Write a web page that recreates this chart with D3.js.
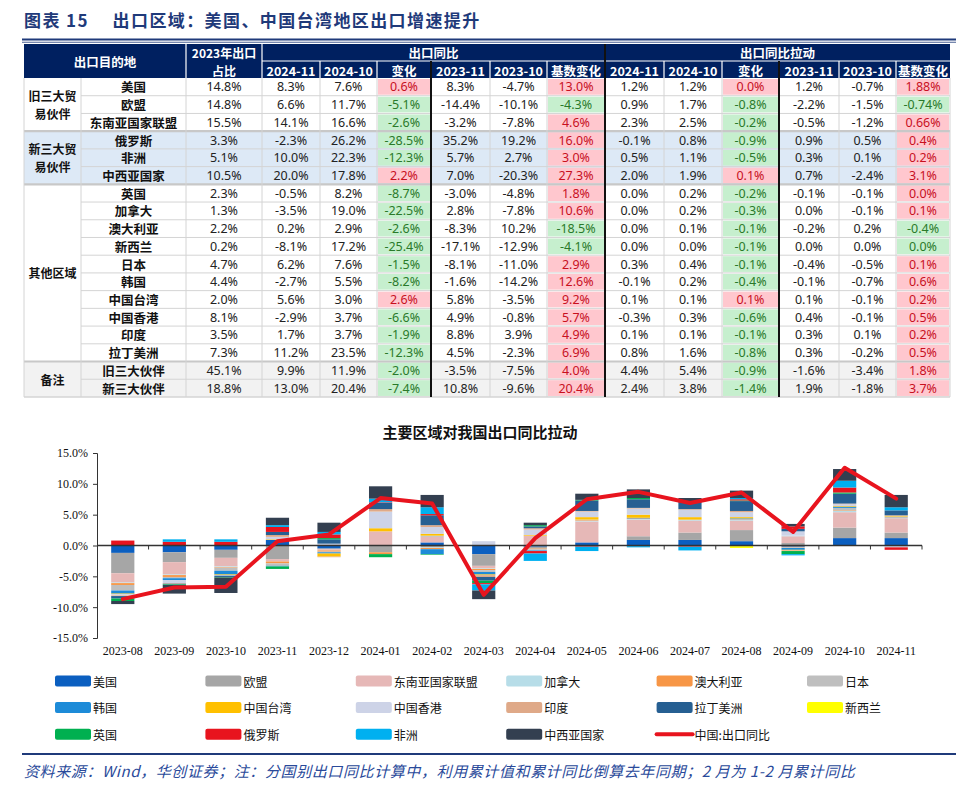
<!DOCTYPE html>
<html><head><meta charset="utf-8">
<script src="https://cdn.jsdelivr.net/npm/d3@7"></script>
<style>body{margin:0;background:#fff}svg{display:block}</style>
</head><body><svg id="c" width="960" height="797"></svg>
<script>
// ---------------- TABLE DATA ----------------
const groups = [
  {label:["旧三大贸","易伙伴"], start:0, n:3, bg:"#ffffff"},
  {label:["新三大贸","易伙伴"], start:3, n:3, bg:"#dde9f6"},
  {label:["其他区域"], start:6, n:10, bg:"#ffffff"},
  {label:["备注"], start:16, n:2, bg:"#f2f2f2"}
];
const rowNames = ["美国","欧盟","东南亚国家联盟","俄罗斯","非洲","中西亚国家","英国","加拿大","澳大利亚","新西兰","日本","韩国","中国台湾","中国香港","印度","拉丁美洲","旧三大伙伴","新三大伙伴"];
const share2023 = ["14.8%","14.8%","15.5%","3.3%","5.1%","10.5%","2.3%","1.3%","2.2%","0.2%","4.7%","4.4%","2.0%","8.1%","3.5%","7.3%","45.1%","18.8%"];
const yoy2411 = ["8.3%","6.6%","14.1%","-2.3%","10.0%","20.0%","-0.5%","-3.5%","0.2%","-8.1%","6.2%","-2.7%","5.6%","-2.9%","1.7%","11.2%","9.9%","13.0%"];
const yoy2410 = ["7.6%","11.7%","16.6%","26.2%","22.3%","17.8%","8.2%","19.0%","2.9%","17.2%","7.6%","5.5%","3.0%","3.7%","3.7%","23.5%","11.9%","20.4%"];
const yoyChg  = ["0.6%","-5.1%","-2.6%","-28.5%","-12.3%","2.2%","-8.7%","-22.5%","-2.6%","-25.4%","-1.5%","-8.2%","2.6%","-6.6%","-1.9%","-12.3%","-2.0%","-7.4%"];
const yoy2311 = ["8.3%","-14.4%","-3.2%","35.2%","5.7%","7.0%","-3.0%","2.8%","-8.3%","-17.1%","-8.1%","-1.6%","5.8%","4.9%","8.8%","4.5%","-3.5%","10.8%"];
const yoy2310 = ["-4.7%","-10.1%","-7.8%","19.2%","2.7%","-20.3%","-4.8%","-7.8%","10.2%","-12.9%","-11.0%","-14.2%","-3.5%","-0.8%","3.9%","-2.3%","-7.5%","-9.6%"];
const yoyBase = ["13.0%","-4.3%","4.6%","16.0%","3.0%","27.3%","1.8%","10.6%","-18.5%","-4.1%","2.9%","12.6%","9.2%","5.7%","4.9%","6.9%","4.0%","20.4%"];
const pull2411 = ["1.2%","0.9%","2.3%","-0.1%","0.5%","2.0%","0.0%","0.0%","0.0%","0.0%","0.3%","-0.1%","0.1%","-0.3%","0.1%","0.8%","4.4%","2.4%"];
const pull2410 = ["1.2%","1.7%","2.5%","0.8%","1.1%","1.9%","0.2%","0.2%","0.1%","0.0%","0.4%","0.2%","0.1%","0.3%","0.1%","1.6%","5.4%","3.8%"];
const pullChg  = ["0.0%","-0.8%","-0.2%","-0.9%","-0.5%","0.1%","-0.2%","-0.3%","-0.1%","-0.1%","-0.1%","-0.4%","0.1%","-0.6%","-0.1%","-0.8%","-0.9%","-1.4%"];
const pull2311 = ["1.2%","-2.2%","-0.5%","0.9%","0.3%","0.7%","-0.1%","0.0%","-0.2%","0.0%","-0.4%","-0.1%","0.1%","0.4%","0.3%","0.3%","-1.6%","1.9%"];
const pull2310 = ["-0.7%","-1.5%","-1.2%","0.5%","0.1%","-2.4%","-0.1%","-0.1%","0.2%","0.0%","-0.5%","-0.7%","-0.1%","-0.1%","0.1%","-0.2%","-3.4%","-1.8%"];
const pullBase = ["1.88%","-0.74%","0.66%","0.4%","0.2%","3.1%","0.0%","0.1%","-0.4%","0.0%","0.1%","0.6%","0.2%","0.5%","0.2%","0.5%","1.8%","3.7%"];
// cells showing "0.0%" that are coloured as declines
const zeroDeclines = [{col:"pullBase", row:9}];
const subHeads = ["2024-11","2024-10","变化","2023-11","2023-10","基数变化"];

// ---------------- CHART DATA ----------------
const months = ["2023-08","2023-09","2023-10","2023-11","2023-12","2024-01","2024-02","2024-03","2024-04","2024-05","2024-06","2024-07","2024-08","2024-09","2024-10","2024-11"];
const seriesNames = ["美国","欧盟","东南亚国家联盟","加拿大","澳大利亚","日本","韩国","中国台湾","中国香港","印度","拉丁美洲","新西兰","英国","俄罗斯","非洲","中西亚国家"];
const usa      = [-1.2,-1.1,-0.7, 0.9,-0.5, 0.0, 0.5,-1.4,-0.2, 0.5, 0.9, 0.9, 0.7,-0.2, 1.2, 1.2];
const eu       = [-3.3,-1.6,-1.3,-2.2,-0.1,-1.1,-0.3,-1.9,-0.3, 0.0, 0.6, 1.2, 1.8, 0.4, 1.7, 0.9];
const asean    = [-1.5,-2.0,-1.4,-0.4,-0.2, 2.3, 0.9,-0.4, 1.6, 3.4, 2.7, 1.9, 1.5, 1.1, 2.5, 2.3];
const canada   = [-0.1,-0.1,-0.1, 0.0, 0.0, 0.0,-0.1,-0.1, 0.0, 0.1, 0.1, 0.1, 0.1, 0.1, 0.2, 0.0];
const australia= [-0.3,-0.3,-0.1,-0.3,-0.2,-0.3,-0.2,-0.2,-0.1, 0.1, 0.1,-0.1,-0.1,-0.1, 0.1, 0.0];
const japan    = [-0.9,-0.2,-0.5,-0.4,-0.1, 0.0, 0.2,-0.3,-0.2, 0.1, 0.0, 0.1, 0.2,-0.1, 0.4, 0.3];
const korea    = [-0.5,-0.3,-0.6,-0.1,-0.2, 0.0,-0.8,-0.4,-0.1,-0.1, 0.1, 0.0, 0.1,-0.3, 0.2,-0.1];
const taiwan   = [-0.1, 0.0,-0.1, 0.1,-0.5, 0.5, 0.3,-0.1, 0.1, 0.4, 0.5, 0.4, 0.2,-0.1, 0.1, 0.1];
const hongkong = [-0.2,-0.5,-0.1, 0.4, 0.3, 2.7, 1.1, 0.7, 0.9, 0.9, 1.0, 1.2, 0.8, 0.7, 0.3,-0.2];
const india    = [-0.1,-0.1, 0.0, 0.3,-0.1, 0.4, 0.3,-0.3, 0.2, 0.1, 0.1, 0.1, 0.2,-0.1, 0.1, 0.1];
const latam    = [-0.4,-0.1,-0.2, 0.5, 0.7, 1.0, 1.6,-0.6, 0.3, 1.7, 1.4, 1.3, 1.6, 0.4, 1.6, 0.8];
const newzealand=[ 0.0, 0.0, 0.0, 0.0, 0.0, 0.0, 0.0, 0.0, 0.0, 0.0, 0.0, 0.0,-0.3, 0.0, 0.0, 0.0];
const uk       = [-0.4,-0.1,-0.1,-0.4, 0.2,-0.5,-0.1,-0.4, 0.2, 0.1, 0.2, 0.0, 0.1,-0.5, 0.2, 0.0];
const russia   = [ 0.8, 0.6, 0.6, 0.8, 0.6, 0.1, 0.2,-0.2,-0.4,-0.1,-0.1,-0.1, 0.2, 0.4, 0.8,-0.4];
const africa   = [ 0.0, 0.4, 0.4, 0.3, 0.4, 0.6, 1.1,-1.0,-1.2,-0.7,-0.2,-0.6, 0.2,-0.2, 1.1, 0.5];
const centralWestAsia = [-0.5,-1.4,-2.5, 1.2, 1.5, 2.0, 2.0,-1.4, 0.4, 1.0, 1.4, 0.5, 1.2, 0.4, 1.9, 2.0];
const chinaExportYoY = [-8.7,-6.8,-6.7, 0.7, 1.8, 7.7, 6.8,-8.0, 1.2, 7.5, 8.7, 6.9, 8.6, 2.2, 12.6, 7.6];
const lineName = "中国:出口同比";
const yTicks = [-15,-10,-5,0,5,10,15];

const seriesValues = [usa,eu,asean,canada,australia,japan,korea,taiwan,hongkong,india,latam,newzealand,uk,russia,africa,centralWestAsia];
const seriesColors = ["#0b5fc0","#a6a6a6","#e6b8b7","#b7dde8","#f79646","#bfbfbf","#1d8bd8","#ffc000","#cdd3e7","#dfa988","#265f92","#ffff00","#00b050","#e8141e","#00b0f0","#333f50"];

// ---------------- DRAW ----------------
const svg = d3.select("#c");
const NAVY = "#002060";
const cjk = "'Noto Sans CJK SC','Noto Sans',sans-serif";
const numFont = "'Noto Sans','Noto Sans CJK SC',sans-serif";

// Title
svg.append("text").attr("x",24).attr("y",27).attr("fill","#1f3a7a")
  .attr("font-family",cjk).attr("font-size",17).attr("font-weight","bold").attr("letter-spacing",1.4)
  .text("图表 15　 出口区域：美国、中国台湾地区出口增速提升");
svg.append("rect").attr("x",22).attr("y",38.5).attr("width",934).attr("height",2).attr("fill","#1f3a7a");
svg.append("rect").attr("x",22).attr("y",41.8).attr("width",934).attr("height",0.8).attr("fill","#1f3a7a");

// Table geometry
const colX = [24,81,186,262,320,377,431,490,547,605,664,722,779,839,896,950];
const hTop = 44, hMid = 61, y0 = 78, rh = 17.72;
const T = svg.append("g");
const numCols = [
  {key:"yoy2411",v:yoy2411},{key:"yoy2410",v:yoy2410},{key:"yoyChg",v:yoyChg,c:true},
  {key:"yoy2311",v:yoy2311},{key:"yoy2310",v:yoy2310},{key:"yoyBase",v:yoyBase,c:true},
  {key:"pull2411",v:pull2411},{key:"pull2410",v:pull2410},{key:"pullChg",v:pullChg,c:true},
  {key:"pull2311",v:pull2311},{key:"pull2310",v:pull2310},{key:"pullBase",v:pullBase,c:true}
];
// header
T.append("rect").attr("x",colX[0]).attr("y",hTop).attr("width",colX[15]-colX[0]).attr("height",y0-hTop).attr("fill",NAVY);
function hText(x,y,t,size){T.append("text").attr("x",x).attr("y",y).attr("text-anchor","middle").attr("dominant-baseline","central")
  .attr("fill","#fff").attr("font-family",cjk).attr("font-weight","bold").attr("font-size",size||12.5).text(t);}
hText((colX[0]+colX[2])/2,(hTop+y0)/2,"出口目的地");
hText((colX[2]+colX[3])/2,hTop+8,"2023年出口",12);
hText((colX[2]+colX[3])/2,y0-8,"占比",12);
hText((colX[3]+colX[9])/2,hTop+8.5,"出口同比");
hText((colX[9]+colX[15])/2,hTop+8.5,"出口同比拉动");
for(let i=0;i<12;i++){ hText((colX[3+i]+colX[4+i])/2,(hMid+y0)/2+0.5,subHeads[i%6]); }
// header white separators
[colX[2],colX[3]].forEach(x=>T.append("line").attr("x1",x).attr("x2",x).attr("y1",hTop).attr("y2",y0).attr("stroke","#fff").attr("stroke-width",1.2));
T.append("line").attr("x1",colX[3]).attr("x2",colX[15]).attr("y1",hMid).attr("y2",hMid).attr("stroke","#fff").attr("stroke-width",1.2);
for(let i=4;i<15;i++){ if(i!==9) T.append("line").attr("x1",colX[i]).attr("x2",colX[i]).attr("y1",hMid).attr("y2",y0).attr("stroke","#fff").attr("stroke-width",1.2); }

// body
groups.forEach(g=>{
  T.append("rect").attr("x",colX[0]).attr("y",y0+g.start*rh).attr("width",colX[15]-colX[0]).attr("height",g.n*rh).attr("fill",g.bg);
  const cy = y0+(g.start+g.n/2)*rh;
  g.label.forEach((l,i)=>{
    T.append("text").attr("x",(colX[0]+colX[1])/2).attr("y",cy+(i-(g.label.length-1)/2)*18)
      .attr("text-anchor","middle").attr("dominant-baseline","central").attr("font-family",cjk)
      .attr("font-weight","bold").attr("font-size",12).attr("fill","#111").text(l);
  });
});
// coloured cells
numCols.forEach((c,ci)=>{
  if(!c.c) return;
  c.v.forEach((t,r)=>{
    const neg = t.trim().startsWith("-") || zeroDeclines.some(z=>z.col===c.key && z.row===r);
    T.append("rect").attr("x",colX[3+ci]+1).attr("y",y0+r*rh+1).attr("width",colX[4+ci]-colX[3+ci]-2).attr("height",rh-2)
      .attr("fill",neg?"#c6efce":"#ffc7ce");
  });
});
// grid lines
for(let r=1;r<18;r++){
  const y=y0+r*rh;
  T.append("line").attr("x1",colX[1]).attr("x2",colX[15]).attr("y1",y).attr("y2",y).attr("stroke","#d4d4d4").attr("stroke-width",1);
}
groups.slice(1).forEach(g=>{
  const y=y0+g.start*rh;
  T.append("line").attr("x1",colX[0]).attr("x2",colX[15]).attr("y1",y).attr("y2",y).attr("stroke","#c8c8c8").attr("stroke-width",2.2);
});
for(let i=1;i<15;i++){
  T.append("line").attr("x1",colX[i]).attr("x2",colX[i]).attr("y1",y0).attr("y2",y0+18*rh).attr("stroke","#d4d4d4").attr("stroke-width",1);
}
T.append("line").attr("x1",colX[0]).attr("x2",colX[0]).attr("y1",y0).attr("y2",y0+18*rh).attr("stroke","#d4d4d4");
T.append("line").attr("x1",colX[15]).attr("x2",colX[15]).attr("y1",y0).attr("y2",y0+18*rh).attr("stroke","#d4d4d4");
T.append("line").attr("x1",colX[0]).attr("x2",colX[15]).attr("y1",y0+18*rh).attr("y2",y0+18*rh).attr("stroke","#d4d4d4").attr("stroke-width",1.5);
// thick black separators
[[colX[6],hMid],[colX[9],hTop],[colX[12],hMid]].forEach(([x,yt])=>{
  T.append("line").attr("x1",x).attr("x2",x).attr("y1",yt).attr("y2",y0+18*rh).attr("stroke","#111").attr("stroke-width",2);
});
// texts
rowNames.forEach((n,r)=>{
  const cy=y0+(r+0.5)*rh;
  T.append("text").attr("x",(colX[1]+colX[2])/2).attr("y",cy).attr("text-anchor","middle").attr("dominant-baseline","central")
    .attr("font-family",cjk).attr("font-weight","bold").attr("font-size",12.5).attr("fill","#111").text(n);
  T.append("text").attr("x",(colX[2]+colX[3])/2).attr("y",cy).attr("text-anchor","middle").attr("dominant-baseline","central")
    .attr("font-family",numFont).attr("font-size",12.5).attr("fill","#222").text(share2023[r]);
});
numCols.forEach((c,ci)=>{
  c.v.forEach((t,r)=>{
    const neg = t.trim().startsWith("-") || zeroDeclines.some(z=>z.col===c.key && z.row===r);
    T.append("text").attr("x",(colX[3+ci]+colX[4+ci])/2).attr("y",y0+(r+0.5)*rh).attr("text-anchor","middle").attr("dominant-baseline","central")
      .attr("font-family",numFont).attr("font-size",12.5)
      .attr("fill",c.c?(neg?"#2a7a2a":"#c8101e"):"#222").text(t);
  });
});

// ---------------- CHART ----------------
svg.append("text").attr("x",480).attr("y",438).attr("text-anchor","middle").attr("font-family",cjk)
  .attr("font-weight","bold").attr("font-size",15).attr("fill","#111").text("主要区域对我国出口同比拉动");

const x = d3.scaleBand().domain(months).range([97,922]).paddingInner(0.55).paddingOuter(0.275);
const y = d3.scaleLinear().domain([-15,15]).range([638,453]);
const rows = months.map((m,i)=>{const o={month:m}; seriesNames.forEach((s,j)=>o[s]=seriesValues[j][i]); return o;});
const stack = d3.stack().keys(seriesNames).offset(d3.stackOffsetDiverging).order(d3.stackOrderNone)(rows);

const C = svg.append("g");
// y axis
const ya = C.append("g").attr("transform","translate(97,0)")
  .call(d3.axisLeft(y).tickValues(yTicks).tickFormat(d=>d.toFixed(1)+"%").tickSize(4).tickPadding(5));
ya.select(".domain").attr("stroke","#333");
ya.selectAll(".tick line").attr("stroke","#333");
ya.selectAll("text").attr("font-family","'Liberation Serif','Times New Roman',serif").attr("font-size",12).attr("fill","#111");
// x labels
const xa = C.append("g").attr("transform","translate(0,640)").call(d3.axisBottom(x).tickSize(0).tickPadding(6));
xa.select(".domain").remove();
xa.selectAll("text").attr("font-family","'Liberation Serif','Times New Roman',serif").attr("font-size",12).attr("fill","#111");

// bars
stack.forEach((s,j)=>{
  C.append("g").selectAll("rect").data(s).join("rect")
    .attr("x",d=>x(d.data.month)).attr("width",x.bandwidth())
    .attr("y",d=>y(Math.max(d[0],d[1]))).attr("height",d=>Math.abs(y(d[0])-y(d[1])))
    .attr("fill",seriesColors[j]);
});
// zero line + ticks
C.append("line").attr("x1",97).attr("x2",922).attr("y1",y(0)).attr("y2",y(0)).attr("stroke","#333").attr("stroke-width",1.3);
const step = x.step();
months.forEach((m,i)=>{
  const tx = 97+(i+1)*step;
  C.append("line").attr("x1",tx).attr("x2",tx).attr("y1",y(0)).attr("y2",y(0)+4).attr("stroke","#333");
});
// line
C.append("path").datum(chinaExportYoY).attr("fill","none").attr("stroke","#e8141e").attr("stroke-width",4)
  .attr("stroke-linejoin","round").attr("stroke-linecap","round")
  .attr("d",d3.line().x((d,i)=>x(months[i])+x.bandwidth()/2).y(d=>y(d)));

// legend
const legendItems = seriesNames.map((n,i)=>({name:n,color:seriesColors[i],type:"rect"})).concat([{name:lineName,color:"#e8141e",type:"line"}]);
const L = svg.append("g");
legendItems.forEach((it,i)=>{
  const lx = 55+(i%6)*150.4, ly = 681+Math.floor(i/6)*26.6;
  if(it.type==="rect") L.append("rect").attr("x",lx).attr("y",ly-5.5).attr("width",36).attr("height",11).attr("rx",2).attr("fill",it.color);
  else L.append("line").attr("x1",lx).attr("x2",lx+36).attr("y1",ly).attr("y2",ly).attr("stroke",it.color).attr("stroke-width",4).attr("stroke-linecap","round");
  L.append("text").attr("x",lx+38).attr("y",ly).attr("dominant-baseline","central").attr("font-family",cjk)
    .attr("font-size",12).attr("fill","#111").text(it.name);
});

// footer
svg.append("rect").attr("x",22).attr("y",753).attr("width",934).attr("height",2).attr("fill","#1f3a7a");
svg.append("text").attr("x",24).attr("y",777).attr("fill","#2a4a9a").attr("font-family",cjk).attr("font-style","italic")
  .attr("font-size",15).attr("letter-spacing",0.6).text("资料来源：Wind，华创证券；注：分国别出口同比计算中，利用累计值和累计同比倒算去年同期；2 月为 1-2 月累计同比");
</script></body></html>
